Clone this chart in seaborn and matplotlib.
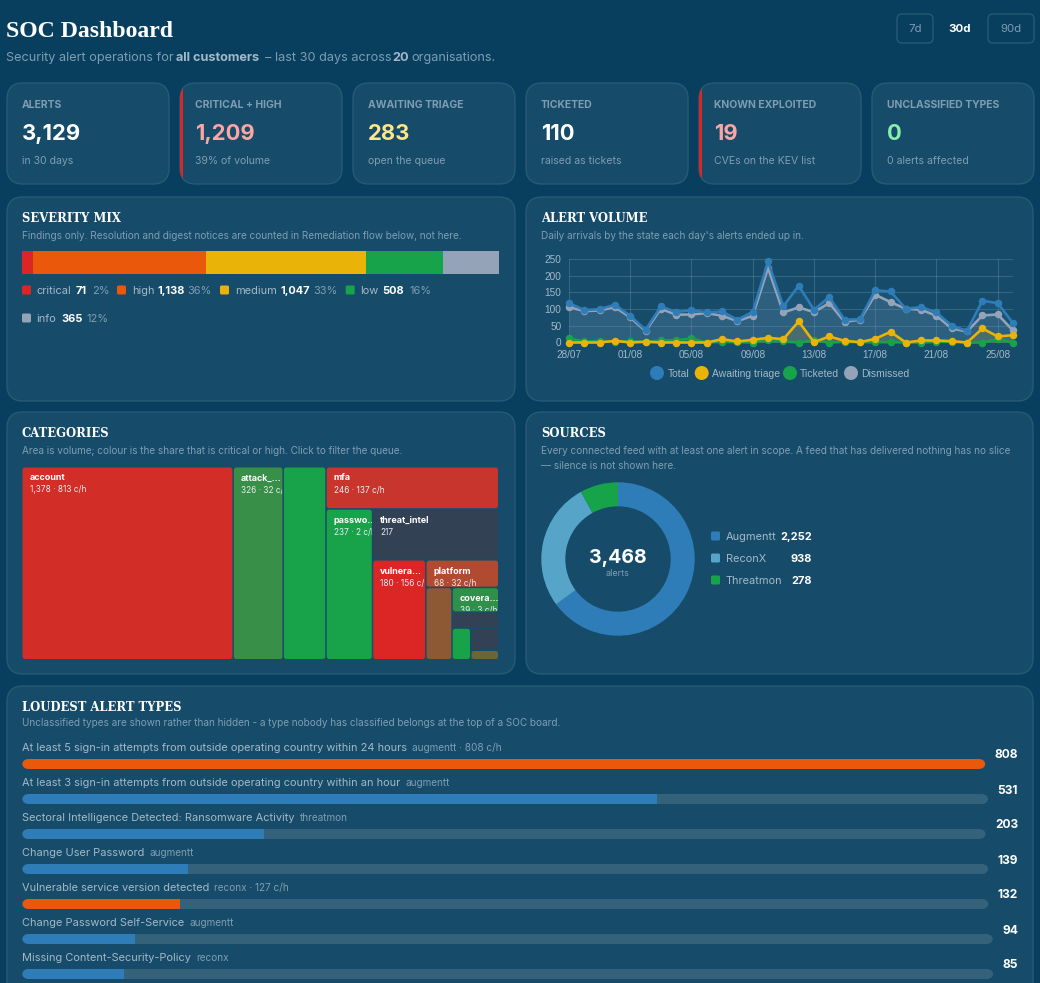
import matplotlib
matplotlib.use('Agg')
import matplotlib.pyplot as plt
from matplotlib.patches import FancyBboxPatch, Rectangle, Circle
from matplotlib.transforms import Bbox, TransformedBbox
import numpy as np
import pandas as pd
import seaborn as sns

# kpi cards
kpi_labels = ['ALERTS', 'CRITICAL + HIGH', 'AWAITING TRIAGE', 'TICKETED', 'KNOWN EXPLOITED', 'UNCLASSIFIED TYPES']
kpi_values = ['3,129', '1,209', '283', '110', '19', '0']
kpi_subs = ['in 30 days', '39% of volume', 'open the queue', 'raised as tickets', 'CVEs on the KEV list', '0 alerts affected']
kpi_colors = ['#ffffff', '#fca5a5', '#fde68a', '#ffffff', '#fca5a5', '#86efac']
kpi_accent = [False, True, False, False, True, False]

# severity
sev_names = ['critical', 'high', 'medium', 'low', 'info']
sev_values = [71, 1138, 1047, 508, 365]
sev_pct = ['2%', '36%', '33%', '16%', '12%']
sev_colors = ['#dc2626', '#ea580c', '#eab308', '#16a34a', '#94a3b8']

# alert volume
day_labels = ['28/07', '01/08', '05/08', '09/08', '13/08', '17/08', '21/08', '25/08']
total = [118, 97, 100, 113, 80, 38, 108, 91, 97, 90, 93, 68, 92, 243, 108, 170, 98, 136, 68, 70, 156, 153, 101, 106, 90, 50, 35, 125, 118, 58]
awaiting = [0, 0, 0, 5, 0, 2, 0, 0, 0, 0, 10, 3, 8, 14, 10, 63, 1, 18, 5, 1, 11, 32, 0, 6, 6, 4, 0, 42, 18, 22]
ticketed = [12, 3, 5, 2, 4, 2, 6, 7, 12, 0, 2, 1, 0, 8, 3, 0, 6, 0, 2, 1, 1, 1, 0, 0, 2, 2, 0, 0, 10, 0]
dismissed = [106, 94, 96, 106, 75, 34, 101, 83, 84, 88, 80, 64, 80, 223, 90, 105, 91, 118, 62, 68, 143, 121, 101, 98, 80, 42, 33, 81, 84, 36]
state_names = ['Total', 'Awaiting triage', 'Ticketed', 'Dismissed']
state_colors = ['#2f7db8', '#eab308', '#16a34a', '#94a3b8']

# categories treemap
cat_names = ['account', 'attack_…', '', 'mfa', 'passwo…', 'threat_intel', 'vulnera…', 'platform', '', 'covera…', '', '', '', '']
cat_values = [1378, 326, 279, 246, 237, 217, 180, 68, 64, 39, 25, 20, 21, 9]
cat_notes = ['1,378 · 813 c/h', '326 · 32 c/h', '', '246 · 137 c/h', '237 · 2 c/h', '217', '180 · 156 c/h', '68 · 32 c/h', '', '39 · 3 c/h', '', '', '', '']
cat_colors = ['#d22d27', '#388f47', '#18a34a', '#c8352c', '#18a34a', '#334155', '#dc2626', '#b04a30',
              '#8b5a35', '#2f9149', '#334155', '#18a34a', '#334155', '#6b6538']

# sources
src_names = ['Augmentt', 'ReconX', 'Threatmon']
src_values = [2252, 938, 278]
src_colors = ['#2f7db8', '#56a5c9', '#16a34a']

# loudest alert types
loud_names = ['At least 5 sign-in attempts from outside operating country within 24 hours',
              'At least 3 sign-in attempts from outside operating country within an hour',
              'Sectoral Intelligence Detected: Ransomware Activity', 'Change User Password',
              'Vulnerable service version detected', 'Change Password Self-Service', 'Missing Content-Security-Policy']
loud_notes = ['augmentt · 808 c/h', 'augmentt', 'threatmon', 'augmentt', 'reconx · 127 c/h', 'augmentt', 'reconx']
loud_values = [808, 531, 203, 139, 132, 94, 85]
loud_colors = ['#ea580c', '#2f7db8', '#2f7db8', '#2f7db8', '#ea580c', '#2f7db8', '#2f7db8']

BG = '#083f5f'
CARD = '#164c69'
EDGE = '#275a75'
MUTED = '#7f9db2'
SOFT = '#a3b8c8'
W, H = 1040, 983

sns.set_theme(style='dark')
plt.rcParams['font.family'] = ['Inter', 'DejaVu Sans']

fig = plt.figure(figsize=(W / 100, H / 100), dpi=100, facecolor=BG)
bg = fig.add_axes([0, 0, 1, 1])
bg.set_xlim(0, W)
bg.set_ylim(H, 0)
bg.axis('off')
renderer = fig.canvas.get_renderer()


def px(n):
    return n * 0.72


def axes_px(x0, y0, x1, y1):
    # axes from pixel box, y counted from the top
    ax = fig.add_axes([x0 / W, 1 - y1 / H, (x1 - x0) / W, (y1 - y0) / H])
    ax.patch.set_visible(False)
    return ax


def card(x0, y0, x1, y1, r=16, fc=CARD, ec=EDGE):
    p = FancyBboxPatch((x0 + r, y0 + r), x1 - x0 - 2 * r, y1 - y0 - 2 * r,
                       boxstyle=f'round,pad={r},rounding_size={r}', fc=fc, ec=ec, lw=1)
    bg.add_patch(p)
    return p


def label(x, y, s, size, color=SOFT, weight='normal', ha='left', family=None):
    kw = {'family': family} if family else {}
    return bg.text(x, y, s, fontsize=px(size), color=color, fontweight=weight, ha=ha, va='center_baseline', **kw)


def serif_title(x, y, s):
    return label(x, y, s, 11.6, '#ffffff', 'bold', family='DejaVu Serif')


# header
label(6, 29, 'SOC Dashboard', 23.7, '#ffffff', 'bold', family='Liberation Serif')
label(6, 56.5, 'Security alert operations for', 12.7, MUTED)
label(176, 56.5, 'all customers', 12.7, SOFT, 'bold')
label(265, 56.5, '– last 30 days across', 12.7, MUTED)
label(392, 56.5, '20', 12.7, SOFT, 'bold')
label(411, 56.5, 'organisations.', 12.7, MUTED)
for x0, x1, s in [(897, 933, '7d'), (988, 1034, '90d')]:
    card(x0, 14, x1, 43, r=5, fc=BG)
    label((x0 + x1) / 2, 28, s, 11.5, MUTED, ha='center')
label(960, 27.5, '30d', 11.5, '#ffffff', 'bold', ha='center')

# kpi cards
kpi_x = [7, 180, 353, 526, 699, 872]
for i, x0 in enumerate(kpi_x):
    patch = card(x0, 83, x0 + 162, 184)
    if kpi_accent[i]:
        strip = Rectangle((x0 - 1, 83), 4, 101, fc='#dc2626', ec='none')
        bg.add_patch(strip)
        strip.set_clip_path(patch)
    label(x0 + 15, 104, kpi_labels[i], 10.4, MUTED, 'bold')
    label(x0 + 15, 132.5, kpi_values[i], 22, kpi_colors[i], 'bold')
    label(x0 + 15, 160, kpi_subs[i], 10.5, MUTED)

# panels
card(7, 197, 515, 401)
card(526, 197, 1033, 401)
card(7, 412, 515, 674)
card(526, 412, 1033, 674)
card(7, 686, 1033, 1010)

# severity mix
serif_title(22, 217, 'SEVERITY MIX')
label(22, 235, 'Findings only. Resolution and digest notices are counted in Remediation flow below, not here.', 10, MUTED)
ax = axes_px(22, 251, 499, 274)
left = 0
for v, c in zip(sev_values, sev_colors):
    ax.barh([0], [v], left=left, height=1, color=c, lw=0)
    left += v
ax.set_xlim(0, sum(sev_values))
ax.set_ylim(-0.5, 0.5)
ax.axis('off')

sev_pos = [(22, 290, 36.7, 76, 92), (117, 290, 131.7, 158, 187.7), (220, 290, 234.7, 280.7, 313.7),
           (345.7, 290, 359.7, 382.7, 409), (22, 318, 36.7, 61, 86)]
for i, (sq, y, tx, vx, px_) in enumerate(sev_pos):
    bg.add_patch(FancyBboxPatch((sq + 1, y - 3.5), 7, 7, boxstyle='round,pad=1,rounding_size=1.5', fc=sev_colors[i], ec='none'))
    label(tx, y, sev_names[i], 11, SOFT)
    label(vx, y, f'{sev_values[i]:,}', 11, '#ffffff', 'bold')
    label(px_, y, sev_pct[i], 11, MUTED)

# alert volume
serif_title(541, 217, 'ALERT VOLUME')
label(541, 235, "Daily arrivals by the state each day's alerts ended up in.", 10, MUTED)
ax = axes_px(569, 259, 1013, 342.5)
days = np.arange(len(total))
vol = pd.DataFrame({'day': days, 'Total': total, 'Awaiting triage': awaiting, 'Ticketed': ticketed, 'Dismissed': dismissed})
vol_long = vol.melt(id_vars='day', var_name='state', value_name='alerts')
for name, c in zip(state_names, state_colors):
    ax.fill_between(days, vol[name], color=c, alpha=0.16, lw=0)
sns.lineplot(data=vol_long, x='day', y='alerts', hue='state', hue_order=state_names[::-1],
             palette=dict(zip(state_names, state_colors)), marker='o', markersize=px(7.5),
             markeredgewidth=0, linewidth=px(2.6), legend=False, errorbar=None, ax=ax, clip_on=False)
ax.set_xlim(0, 29)
ax.set_ylim(0, 250)
ax.set_xticks(days[::4], day_labels)
ax.set_yticks(range(0, 251, 50))
ax.set_xlabel('')
ax.set_ylabel('')
ax.grid(True, color='#ffffff', alpha=0.14, lw=0.8)
ax.tick_params(length=px(6), width=0.8, pad=1, color='#3f6d88', labelcolor=SOFT)
for t in ax.get_xticklabels() + ax.get_yticklabels():
    t.set_family('Liberation Sans')
    t.set_fontsize(px(10))
for s in ax.spines.values():
    s.set_visible(False)

legend_pos = [(657, 668), (701.7, 711.5), (790, 800), (851, 861)]
for (cx, tx), name, c in zip(legend_pos, state_names, state_colors):
    bg.add_patch(Circle((cx, 373), 7, fc=c, ec='none'))
    label(tx, 373, name, 10.4, SOFT, family='Liberation Sans')

# categories
serif_title(22, 432, 'CATEGORIES')
label(22, 450, 'Area is volume; colour is the share that is critical or high. Click to filter the queue.', 10, MUTED)
ax = axes_px(22, 467, 499, 660)
ax.set_xlim(0, 477)
ax.set_ylim(193, 0)
ax.axis('off')


def slice_layout(values, w, h):
    # every cell takes the whole short side of what is left
    rects = []
    x, y = 0, 0
    rest = sum(values)
    for v in values:
        if w >= h:
            cw = w * v / rest
            rects.append((x, y, cw, h))
            x += cw
            w -= cw
        else:
            ch = h * v / rest
            rects.append((x, y, w, ch))
            y += ch
            h -= ch
        rest -= v
    return rects


for (x, y, cw, ch), name, note, c in zip(slice_layout(cat_values, 477, 193), cat_names, cat_notes, cat_colors):
    cell = FancyBboxPatch((x + 2, y + 2), max(cw - 2.5, 0.5) - 2, max(ch - 2.5, 0.5) - 2,
                          boxstyle='round,pad=1.5,rounding_size=2.5', fc=c, ec='none')
    ax.add_patch(cell)
    if name:
        # text only takes a clip box, not a clip path
        box = TransformedBbox(Bbox([[x, y], [x + cw - 1, y + ch - 1]]), ax.transData)
        t1 = ax.text(x + 7.5, y + 11, name, fontsize=px(9), color='#ffffff', fontweight='bold', va='center', clip_on=True)
        t2 = ax.text(x + 7.5, y + 23, note, fontsize=px(8.3), color='#e6edf3', va='center', clip_on=True)
        t1.set_clip_box(box)
        t2.set_clip_box(box)

# sources
serif_title(541, 432, 'SOURCES')
label(541, 450, 'Every connected feed with at least one alert in scope. A feed that has delivered nothing has no slice', 10, MUTED)
label(541, 465, '— silence is not shown here.', 10, MUTED)
ax = axes_px(541.3, 482.3, 694.7, 635.7)
ax.pie(src_values, colors=src_colors, startangle=90, counterclock=False, radius=1,
       wedgeprops={'width': 0.313, 'lw': 0})
ax.set_xlim(-1, 1)
ax.set_ylim(-1, 1)
label(618, 556, f'{sum(src_values):,}', 19.5, '#ffffff', 'bold', ha='center')
label(618, 572, 'alerts', 9, MUTED, ha='center')
for i, y in enumerate([536, 558, 580]):
    bg.add_patch(FancyBboxPatch((712, y - 3.5), 7, 7, boxstyle='round,pad=1,rounding_size=1.5', fc=src_colors[i], ec='none'))
    label(726, y, src_names[i], 11, SOFT)
    label(812, y, f'{src_values[i]:,}', 11, '#ffffff', 'bold', ha='right')

# loudest alert types
serif_title(22, 706, 'LOUDEST ALERT TYPES')
label(22, 722, 'Unclassified types are shown rather than hidden - a type nobody has classified belongs at the top of a SOC board.', 10, MUTED)
loud = pd.DataFrame({'name': loud_names, 'value': loud_values})
for i, row in loud.iterrows():
    yc = 764 + 35 * i
    name_txt = label(22, yc - 17, row['name'], 11, SOFT)
    name_w = name_txt.get_window_extent(renderer).width
    label(22 + name_w + 5, yc - 17, loud_notes[i], 10, MUTED)
    val_txt = label(1018, yc - 10, str(row['value']), 12, '#ffffff', 'bold', ha='right')
    track_end = val_txt.get_window_extent(renderer).x0 - 9

    ax = axes_px(22, yc - 5, track_end, yc + 5)
    sns.barplot(data=loud.iloc[[i]], x='value', y='name', color=loud_colors[i], saturation=1, width=1,
                linewidth=0, edgecolor='none', ax=ax)
    ax.set_xlim(0, max(loud_values))
    ax.set_ylim(0.5, -0.5)
    ax.axis('off')
    # track behind the bar, the bar is clipped to it so the ends stay rounded
    xs = max(loud_values) / (track_end - 22)
    track = FancyBboxPatch((0, -0.5), max(loud_values), 1, boxstyle=f'round,pad=0,rounding_size={7 * xs}',
                           mutation_aspect=(1 / 10) / xs, fc='#35627b', ec='none', zorder=0)
    ax.add_patch(track)
    for bar in ax.patches:
        if bar is not track:
            bar.set_clip_path(track)

fig.savefig('out.png', dpi=100, facecolor=BG)
